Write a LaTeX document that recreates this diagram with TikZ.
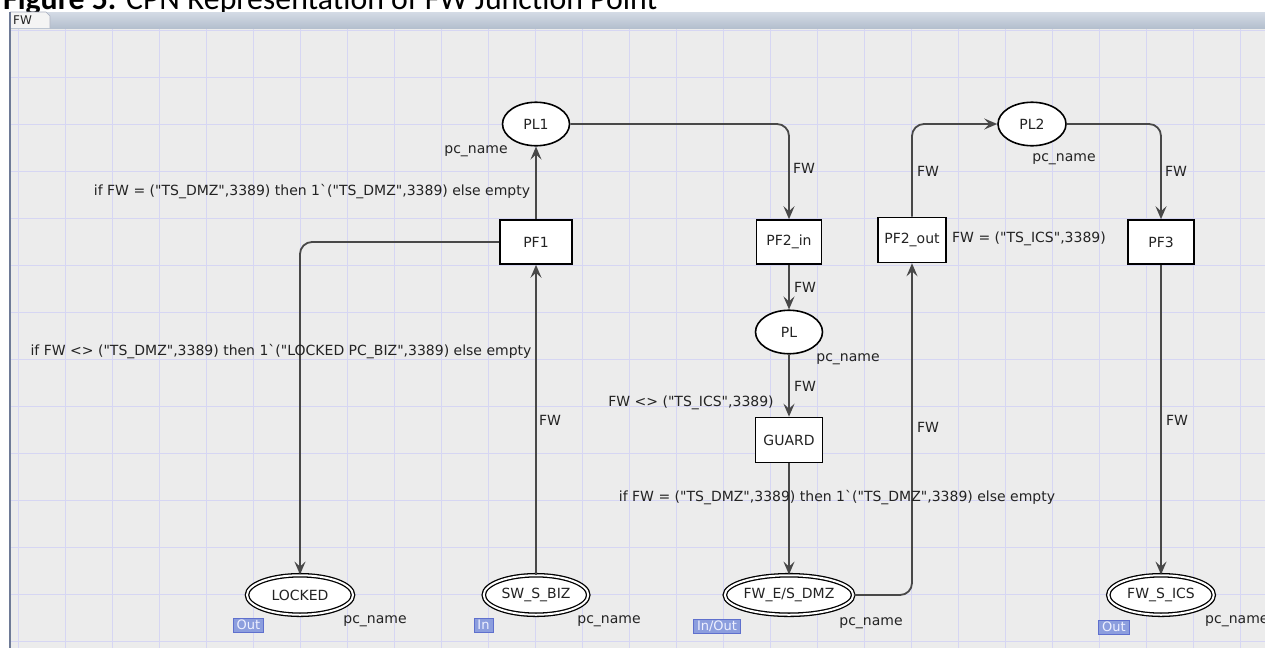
\documentclass[tikz,border=0pt]{standalone}
\usepackage{fontspec}
\newfontfamily\dv{DejaVu Sans}
\newfontfamily\titlefont{Carlito}
\usetikzlibrary{shapes.geometric,arrows.meta}
\definecolor{canvas}{RGB}{236,236,236}
\definecolor{gridc}{RGB}{214,214,243}
\definecolor{arcc}{RGB}{72,72,72}
\definecolor{txt}{RGB}{35,35,35}
\definecolor{tagfill}{RGB}{140,158,222}
\definecolor{tagdraw}{RGB}{95,112,205}
\definecolor{tagtext}{RGB}{238,240,255}
\definecolor{barTop}{RGB}{212,219,229}
\definecolor{barBot}{RGB}{180,191,206}
\definecolor{borderc}{RGB}{110,122,150}
\begin{document}
\begin{tikzpicture}[x=1pt,y=-1pt,
  every node/.style={font=\dv\fontsize{14}{16}\selectfont, text=txt},
  place/.style={ellipse, draw=black, line width=1.6pt, fill=white, inner sep=0pt, minimum width=67pt, minimum height=43.5pt},
  port/.style={ellipse, draw=black, line width=1.3pt, double=white, double distance=2pt, fill=white, inner sep=0pt, minimum width=106pt, minimum height=39.5pt},
  trans/.style={rectangle, draw=black, line width=1.6pt, fill=white, inner sep=0pt, minimum width=70pt, minimum height=44pt},
  arc/.style={draw=arcc, line width=1.8pt, -{Stealth[length=13pt,width=11pt,inset=5pt]}, rounded corners=12pt},
  lbl/.style={inner sep=0pt, text=txt},
  tag/.style={font=\dv\fontsize{13}{13}\selectfont, fill=tagfill, draw=tagdraw, line width=0.8pt, inner xsep=3.5pt, inner ysep=0pt, minimum height=14pt, text=tagtext}
]
\useasboundingbox (0,0) rectangle (1265,648);
\fill[white] (0,0) rectangle (1265,648);
% title (clipped at top)
\node[anchor=base west, inner sep=0pt, font=\titlefont\fontsize{31.8}{34}\selectfont, text=black] (title) at (3,9.5) {\textbf{Figure 5.} CPN Representation of FW Junction Point};
% canvas
\fill[canvas] (10,28) rectangle (1265,648);
\foreach \k in {0,...,26} \draw[gridc, line width=1pt] ({18+47*\k},28) -- ({18+47*\k},648);
\foreach \k in {0,...,13} \draw[gridc, line width=1pt] (10,{30+47*\k}) -- (1265,{30+47*\k});
% tab bar
\shade[top color=barTop, bottom color=barBot] (10,12) rectangle (1265,28);
\fill[canvas!60!white] (10,12) -- (46,12) -- (50,16) -- (50,28) -- (10,28) -- cycle;
\draw[borderc!60, line width=0.6pt] (10,12) -- (46,12) -- (50,16) -- (50,28);
\node[anchor=west, inner sep=0pt, font=\dv\fontsize{12}{12}\selectfont] (tabl) at (13,20.5) {FW};
\draw[borderc, line width=1.2pt] (10,12) -- (10,648);
% places
\node[place] (PL1) at (536,124) {PL1};
\node[place, minimum width=68pt] (PL2) at (1032,124) {PL2};
\node[place] (PL) at (789,332) {PL};
% transitions
\node[trans, minimum width=72pt] (PF1) at (536,242) {PF1};
\node[trans, minimum width=65pt] (PF2in) at (789,242) {PF2\_in};
\node[trans, minimum width=68pt, minimum height=45pt] (PF2out) at (912,240) {PF2\_out};
\node[trans, minimum width=66pt] (PF3) at (1161,242) {PF3};
\node[trans, minimum width=67pt, minimum height=45pt] (GUARD) at (789,440) {GUARD};
% port places
\node[port] (LOCKED) at (300,595) {LOCKED};
\node[port, minimum width=104.5pt] (SWSBIZ) at (536,595) {SW\_S\_BIZ};
\node[port, minimum width=123.5pt] (FWES) at (789,595) {FW\_E/S\_DMZ};
\node[port, minimum width=105.5pt] (FWSICS) at (1161,595) {FW\_S\_ICS};
% arcs
\draw[arc] (PF1) -- (PL1);
\draw[arc] (PL1.east) -| (PF2in.north);
\draw[arc] (PF2in) -- (PL);
\draw[arc] (PL) -- (GUARD);
\draw[arc] (GUARD) -- (FWES);
\draw[arc] (FWES.east) -| (PF2out.south);
\draw[arc] (PF2out.north) |- (PL2.west);
\draw[arc] (PL2.east) -| (PF3.north);
\draw[arc] (PF3) -- (FWSICS);
\draw[arc] (SWSBIZ) -- (PF1);
\draw[arc] (PF1.west) -| (LOCKED.north);
% inscriptions
\node[lbl] (l1) at (476,151) {pc\_name};
\node[lbl] (l2) at (804,168) {FW};
\node[lbl] (l3) at (312,192) {if FW = ("TS\_DMZ",3389) then 1`("TS\_DMZ",3389) else empty};
\node[lbl] (l4) at (281,352) {if FW <> ("TS\_DMZ",3389) then 1`("LOCKED PC\_BIZ",3389) else empty};
\node[lbl] (l5) at (805,287) {FW};
\node[lbl] (l6) at (848,359) {pc\_name};
\node[lbl] (l7) at (805,386) {FW};
\node[lbl] (l8) at (691,403) {FW <> ("TS\_ICS",3389)};
\node[lbl] (l9) at (837,498) {if FW = ("TS\_DMZ",3389) then 1`("TS\_DMZ",3389) else empty};
\node[lbl] (l10) at (550,420) {FW};
\node[lbl] (l11) at (928,171) {FW};
\node[lbl] (l12) at (1064,159) {pc\_name};
\node[lbl] (l13) at (1176,171) {FW};
\node[lbl] (l14) at (1029,239) {FW = ("TS\_ICS",3389)};
\node[lbl] (l15) at (928,427) {FW};
\node[lbl] (l16) at (1177,420) {FW};
\node[lbl] (l17) at (375,621) {pc\_name};
\node[lbl] (l18) at (609,621) {pc\_name};
\node[lbl] (l19) at (871,623) {pc\_name};
\node[lbl, anchor=west] (l20) at (1205,621) {pc\_name};
% port tags
\node[tag] (t1) at (248.5,625) {Out};
\node[tag] (t2) at (483.5,625) {In};
\node[tag] (t3) at (717,626) {In/Out};
\node[tag] (t4) at (1114,627) {Out};
\end{tikzpicture}
\end{document}
